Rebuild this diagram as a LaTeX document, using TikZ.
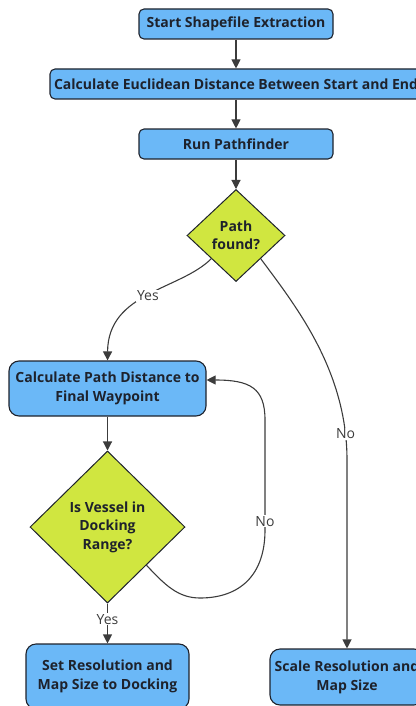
\documentclass[tikz,border=0pt]{standalone}
\usepackage{fontspec}
\setmainfont{Open Sans}
\usetikzlibrary{shapes.geometric,arrows.meta}
\definecolor{boxblue}{RGB}{107,184,247}
\definecolor{decgreen}{RGB}{208,230,64}
\definecolor{ink}{RGB}{30,34,44}
\definecolor{edgegray}{RGB}{60,60,60}
\begin{document}
\begin{tikzpicture}[x=1pt,y=-1pt,
  process/.style={draw=ink, line width=1.1pt, fill=boxblue, rounded corners=5pt,
    font=\bfseries\fontsize{14}{19}\selectfont, text=ink, align=center, inner sep=0pt},
  decision/.style={diamond, draw=ink, line width=1pt, fill=decgreen, aspect=1,
    font=\bfseries\fontsize{14}{18.5}\selectfont, text=ink, align=center, inner sep=0pt},
  flow/.style={draw=edgegray, line width=1.1pt, -{Triangle[length=9pt,width=9pt]}},
  lbl/.style={fill=white, text=edgegray, font=\fontsize{14}{16}\selectfont, inner sep=1pt}]

\useasboundingbox (0,0) rectangle (415,706);

% process boxes and decisions
\node[process, minimum width=194pt, minimum height=30pt] (start) at (236,24) {Start Shapefile Extraction};
\node[process, minimum width=372pt, minimum height=30pt] (eucl) at (236,84) {Calculate Euclidean Distance Between Start and End};
\node[process, minimum width=194pt, minimum height=30pt] (run) at (236,144) {Run Pathfinder};
\node[decision, minimum width=98pt, minimum height=92pt] (found) at (236,235.5) {Path\\found?};
\node[process, minimum width=197pt, minimum height=55pt, rounded corners=10pt] (pathdist) at (107.5,388.5) {Calculate Path Distance to\\Final Waypoint};
\node[decision, minimum width=155pt, minimum height=152pt] (range) at (107.5,527) {Is Vessel in\\Docking\\Range?};
\node[process, minimum width=163pt, minimum height=65pt, rounded corners=10pt] (dock) at (107.5,676.5) {Set Resolution and\\Map Size to Docking};
\node[process, minimum width=154pt, minimum height=56pt, rounded corners=10pt] (scale) at (347,677) {Scale Resolution and\\Map Size};

% connectors
\draw[flow] (start) -- (eucl);
\draw[flow] (eucl) -- (run);
\draw[flow] (run) -- (found);
\draw[flow] (found.south west) .. controls (180,290) and (108,292) .. (pathdist.north)
  node[lbl, pos=0.5] (yes1) {Yes};
\draw[flow] (found.south east) .. controls (295,305) and (347,370) .. (347,460)
  node[lbl, pos=0.9] (no1) {No} -- (scale.north);
\draw[flow] (pathdist) -- (range);
\draw[flow] (range.south east) .. controls (165,585) and (178,598) .. (200,598)
  .. controls (240,598) and (265,575) .. (265,530) -- (265,420)
  node[lbl, pos=0.08] (no2) {No}
  .. controls (265,388) and (250,380) .. ([yshift=8.5pt]pathdist.east);
\draw[flow] (range.south) -- (dock.north) node[lbl, pos=0.39] (yes2) {Yes};
\end{tikzpicture}
\end{document}
